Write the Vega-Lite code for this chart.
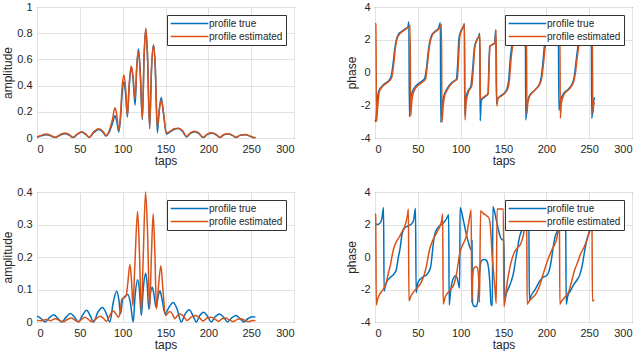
{
"$schema": "https://vega.github.io/schema/vega-lite/v6.json",
"background": "white",
"padding": {"left": 1, "top": 0, "right": 0, "bottom": 0},
"autosize": {"type": "pad"},
"columns": 2,
"spacing": {"row": 54, "column": 81},
"bounds": "flush",
"resolve": {"scale": {"color": "independent", "y": "independent", "x": "independent"}, "legend": {"color": "independent"}},
"config": {
 "font": "Liberation Sans",
 "view": {"stroke": "#3c3c3c", "strokeWidth": 1},
 "axis": {"labelFont": "Liberation Sans", "labelFontSize": 11, "labelColor": "#262626", "titleFont": "Liberation Sans", "titleFontSize": 12, "titleFontWeight": "normal", "titleColor": "#262626", "domain": false, "ticks": false, "tickSize": 0, "gridColor": "#e2e2e2", "gridWidth": 1, "labelExpr": "datum.value"},
 "axisX": {"labelPadding": 5, "titlePadding": 1},
 "axisY": {"labelPadding": 5, "titlePadding": 2},
 "legend": {"orient": "top-right", "offset": 8, "title": null, "symbolType": "M-4,0L4,0", "symbolSize": 89, "symbolStrokeWidth": 1.6, "symbolOffset": 14, "labelOffset": 14, "labelFont": "Liberation Sans", "labelFontSize": 10, "labelColor": "#262626", "strokeColor": "#333333", "fillColor": "white", "padding": 3, "rowPadding": 2},
 "line": {"strokeWidth": 1.5, "interpolate": "monotone"}
},
"datasets": {
"tl": [
{"t":0,"s":"T","v":0.005},{"t":5,"s":"T","v":0.016},{"t":11,"s":"T","v":0.025},{"t":16,"s":"T","v":0.016},{"t":21,"s":"T","v":0.003},{"t":27,"s":"T","v":0.022},{"t":33,"s":"T","v":0.033},{"t":38,"s":"T","v":0.02},{"t":42,"s":"T","v":0.003},{"t":47,"s":"T","v":0.027},{"t":52,"s":"T","v":0.043},{"t":57,"s":"T","v":0.027},{"t":61,"s":"T","v":0.003},{"t":66,"s":"T","v":0.04},{"t":72,"s":"T","v":0.065},{"t":77,"s":"T","v":0.045},{"t":80.5,"s":"T","v":0.015},{"t":84,"s":"T","v":0.04},{"t":88,"s":"T","v":0.11},{"t":91,"s":"T","v":0.17},{"t":93,"s":"T","v":0.13},{"t":95.5,"s":"T","v":0.045},{"t":97.5,"s":"T","v":0.15},{"t":99.5,"s":"T","v":0.35},{"t":101.5,"s":"T","v":0.43},{"t":103.5,"s":"T","v":0.33},{"t":105.5,"s":"T","v":0.16},{"t":107.5,"s":"T","v":0.38},{"t":110,"s":"T","v":0.54},{"t":112,"s":"T","v":0.46},{"t":114.5,"s":"T","v":0.25},{"t":116.5,"s":"T","v":0.55},{"t":118.5,"s":"T","v":0.68},{"t":120.5,"s":"T","v":0.5},{"t":123,"s":"T","v":0.14},{"t":125,"s":"T","v":0.62},{"t":127,"s":"T","v":0.83},{"t":129,"s":"T","v":0.62},{"t":131.5,"s":"T","v":0.07},{"t":133.5,"s":"T","v":0.5},{"t":136,"s":"T","v":0.71},{"t":138,"s":"T","v":0.55},{"t":140.5,"s":"T","v":0.04},{"t":142.5,"s":"T","v":0.2},{"t":145,"s":"T","v":0.31},{"t":147.5,"s":"T","v":0.2},{"t":151,"s":"T","v":0.03},{"t":155,"s":"T","v":0.045},{"t":160,"s":"T","v":0.065},{"t":165,"s":"T","v":0.072},{"t":170,"s":"T","v":0.05},{"t":174.5,"s":"T","v":0.008},{"t":179,"s":"T","v":0.035},{"t":184,"s":"T","v":0.048},{"t":189,"s":"T","v":0.033},{"t":194,"s":"T","v":0.003},{"t":199,"s":"T","v":0.028},{"t":204,"s":"T","v":0.037},{"t":209,"s":"T","v":0.025},{"t":213.5,"s":"T","v":0.003},{"t":218,"s":"T","v":0.024},{"t":223,"s":"T","v":0.031},{"t":228,"s":"T","v":0.02},{"t":232.5,"s":"T","v":0.003},{"t":237,"s":"T","v":0.02},{"t":243,"s":"T","v":0.025},{"t":248,"s":"T","v":0.015},{"t":252,"s":"T","v":0.004},{"t":255,"s":"T","v":0.002},
{"t":0,"s":"E","v":0.008},{"t":5,"s":"E","v":0.02},{"t":11,"s":"E","v":0.03},{"t":16,"s":"E","v":0.02},{"t":21,"s":"E","v":0.005},{"t":27,"s":"E","v":0.026},{"t":33,"s":"E","v":0.038},{"t":38,"s":"E","v":0.025},{"t":42,"s":"E","v":0.005},{"t":47,"s":"E","v":0.03},{"t":52,"s":"E","v":0.047},{"t":57,"s":"E","v":0.03},{"t":61,"s":"E","v":0.005},{"t":66,"s":"E","v":0.045},{"t":72,"s":"E","v":0.07},{"t":77,"s":"E","v":0.05},{"t":80.5,"s":"E","v":0.02},{"t":84,"s":"E","v":0.05},{"t":88,"s":"E","v":0.14},{"t":91,"s":"E","v":0.23},{"t":93,"s":"E","v":0.18},{"t":95.5,"s":"E","v":0.06},{"t":97.5,"s":"E","v":0.18},{"t":99.5,"s":"E","v":0.4},{"t":101.5,"s":"E","v":0.48},{"t":103.5,"s":"E","v":0.37},{"t":105.5,"s":"E","v":0.17},{"t":107.5,"s":"E","v":0.4},{"t":110,"s":"E","v":0.55},{"t":112,"s":"E","v":0.48},{"t":114.5,"s":"E","v":0.3},{"t":116.5,"s":"E","v":0.55},{"t":118.5,"s":"E","v":0.66},{"t":120.5,"s":"E","v":0.5},{"t":123,"s":"E","v":0.15},{"t":125,"s":"E","v":0.62},{"t":127,"s":"E","v":0.84},{"t":129,"s":"E","v":0.63},{"t":131.5,"s":"E","v":0.08},{"t":133.5,"s":"E","v":0.5},{"t":136,"s":"E","v":0.71},{"t":138,"s":"E","v":0.55},{"t":140.5,"s":"E","v":0.08},{"t":142.5,"s":"E","v":0.2},{"t":145,"s":"E","v":0.29},{"t":147.5,"s":"E","v":0.2},{"t":151,"s":"E","v":0.04},{"t":155,"s":"E","v":0.05},{"t":160,"s":"E","v":0.07},{"t":165,"s":"E","v":0.075},{"t":170,"s":"E","v":0.055},{"t":174.5,"s":"E","v":0.012},{"t":179,"s":"E","v":0.04},{"t":184,"s":"E","v":0.052},{"t":189,"s":"E","v":0.037},{"t":194,"s":"E","v":0.005},{"t":199,"s":"E","v":0.032},{"t":204,"s":"E","v":0.04},{"t":209,"s":"E","v":0.028},{"t":213.5,"s":"E","v":0.005},{"t":218,"s":"E","v":0.027},{"t":223,"s":"E","v":0.033},{"t":228,"s":"E","v":0.022},{"t":232.5,"s":"E","v":0.005},{"t":237,"s":"E","v":0.022},{"t":243,"s":"E","v":0.027},{"t":248,"s":"E","v":0.017},{"t":252,"s":"E","v":0.005},{"t":255,"s":"E","v":0.003}
],
"tr": [
{"t":0,"s":"T","v":-3.0},{"t":1,"s":"T","v":-2.9},{"t":2.5,"s":"T","v":-1.8},{"t":4,"s":"T","v":-1.2},{"t":8,"s":"T","v":-0.85},{"t":12,"s":"T","v":-0.65},{"t":16,"s":"T","v":-0.5},{"t":19,"s":"T","v":-0.2},{"t":21,"s":"T","v":0.5},{"t":23,"s":"T","v":1.4},{"t":25,"s":"T","v":2.0},{"t":27,"s":"T","v":2.3},{"t":31,"s":"T","v":2.5},{"t":35,"s":"T","v":2.65},{"t":38.5,"s":"T","v":2.8},{"t":39.5,"s":"T","v":3.1},{"t":40.2,"s":"T","v":-2.7},{"t":41.5,"s":"T","v":-1.6},{"t":43.5,"s":"T","v":-1.2},{"t":48,"s":"T","v":-0.8},{"t":53,"s":"T","v":-0.6},{"t":58,"s":"T","v":-0.35},{"t":60,"s":"T","v":0.2},{"t":62,"s":"T","v":1.2},{"t":64,"s":"T","v":1.9},{"t":66,"s":"T","v":2.25},{"t":70,"s":"T","v":2.5},{"t":74,"s":"T","v":2.7},{"t":76.3,"s":"T","v":3.05},{"t":76.8,"s":"T","v":-3.05},{"t":78,"s":"T","v":-2.0},{"t":80,"s":"T","v":-1.5},{"t":84,"s":"T","v":-1.0},{"t":90,"s":"T","v":-0.6},{"t":95,"s":"T","v":-0.4},{"t":96.5,"s":"T","v":0.5},{"t":98,"s":"T","v":2.1},{"t":100,"s":"T","v":2.5},{"t":103.5,"s":"T","v":2.85},{"t":104.3,"s":"T","v":3.0},{"t":104.8,"s":"T","v":-2.6},{"t":106,"s":"T","v":-1.6},{"t":108,"s":"T","v":-1.2},{"t":112,"s":"T","v":-0.8},{"t":114,"s":"T","v":0.2},{"t":116,"s":"T","v":1.5},{"t":118,"s":"T","v":1.9},{"t":121,"s":"T","v":2.2},{"t":122.3,"s":"T","v":2.4},{"t":122.8,"s":"T","v":-2.95},{"t":124,"s":"T","v":-1.7},{"t":128,"s":"T","v":-1.5},{"t":132,"s":"T","v":-1.3},{"t":133,"s":"T","v":0.5},{"t":134,"s":"T","v":1.6},{"t":137,"s":"T","v":1.7},{"t":139.5,"s":"T","v":1.8},{"t":141,"s":"T","v":2.6},{"t":141.8,"s":"T","v":-1.9},{"t":143,"s":"T","v":-1.6},{"t":146,"s":"T","v":-1.45},{"t":150,"s":"T","v":-1.3},{"t":154,"s":"T","v":-1.0},{"t":156,"s":"T","v":-0.5},{"t":158,"s":"T","v":0.9},{"t":160,"s":"T","v":1.7},{"t":163,"s":"T","v":2.1},{"t":168,"s":"T","v":2.4},{"t":172,"s":"T","v":2.6},{"t":175.5,"s":"T","v":2.9},{"t":176,"s":"T","v":-2.9},{"t":177.5,"s":"T","v":-2.0},{"t":180,"s":"T","v":-1.45},{"t":186,"s":"T","v":-1.1},{"t":192,"s":"T","v":-0.7},{"t":194,"s":"T","v":-0.3},{"t":196,"s":"T","v":0.6},{"t":198,"s":"T","v":1.7},{"t":201,"s":"T","v":2.2},{"t":206,"s":"T","v":2.45},{"t":210,"s":"T","v":2.6},{"t":214,"s":"T","v":2.9},{"t":214.7,"s":"T","v":-2.3},{"t":216,"s":"T","v":-1.8},{"t":220,"s":"T","v":-1.3},{"t":226,"s":"T","v":-1.0},{"t":231,"s":"T","v":-0.6},{"t":233,"s":"T","v":-0.1},{"t":235,"s":"T","v":0.8},{"t":237.5,"s":"T","v":1.8},{"t":240,"s":"T","v":2.2},{"t":245,"s":"T","v":2.45},{"t":249,"s":"T","v":2.6},{"t":252.5,"s":"T","v":2.9},{"t":253,"s":"T","v":-2.8},{"t":254.5,"s":"T","v":-2.0},{"t":256,"s":"T","v":-1.5},
{"t":0,"s":"E","v":3.0},{"t":1,"s":"E","v":2.95},{"t":1.8,"s":"E","v":-3.0},{"t":3,"s":"E","v":-2.2},{"t":5,"s":"E","v":-1.2},{"t":8,"s":"E","v":-0.9},{"t":12,"s":"E","v":-0.7},{"t":16,"s":"E","v":-0.55},{"t":19.5,"s":"E","v":-0.3},{"t":22,"s":"E","v":0.6},{"t":24,"s":"E","v":1.6},{"t":26,"s":"E","v":2.1},{"t":28,"s":"E","v":2.3},{"t":32,"s":"E","v":2.5},{"t":36,"s":"E","v":2.65},{"t":40.5,"s":"E","v":2.85},{"t":41,"s":"E","v":2.9},{"t":41.7,"s":"E","v":-2.65},{"t":43,"s":"E","v":-1.7},{"t":45,"s":"E","v":-1.2},{"t":50,"s":"E","v":-0.8},{"t":55,"s":"E","v":-0.6},{"t":59,"s":"E","v":-0.4},{"t":61,"s":"E","v":0.4},{"t":63,"s":"E","v":1.4},{"t":65,"s":"E","v":2.0},{"t":67,"s":"E","v":2.3},{"t":71,"s":"E","v":2.5},{"t":75,"s":"E","v":2.7},{"t":77.6,"s":"E","v":2.95},{"t":78.2,"s":"E","v":-3.05},{"t":79.5,"s":"E","v":-2.1},{"t":81,"s":"E","v":-1.5},{"t":85,"s":"E","v":-1.0},{"t":91,"s":"E","v":-0.6},{"t":96,"s":"E","v":-0.4},{"t":97.5,"s":"E","v":0.8},{"t":99,"s":"E","v":2.2},{"t":101,"s":"E","v":2.55},{"t":104.5,"s":"E","v":2.9},{"t":105,"s":"E","v":-2.9},{"t":106.5,"s":"E","v":-1.8},{"t":109,"s":"E","v":-1.2},{"t":113,"s":"E","v":-0.8},{"t":114.7,"s":"E","v":0.2},{"t":116.5,"s":"E","v":1.5},{"t":118.5,"s":"E","v":1.9},{"t":121.5,"s":"E","v":2.2},{"t":122.5,"s":"E","v":2.3},{"t":123,"s":"E","v":-1.6},{"t":124,"s":"E","v":-1.6},{"t":128,"s":"E","v":-1.45},{"t":132,"s":"E","v":-1.3},{"t":133.2,"s":"E","v":0.5},{"t":134.3,"s":"E","v":1.6},{"t":137,"s":"E","v":1.7},{"t":140,"s":"E","v":1.8},{"t":141.3,"s":"E","v":2.6},{"t":142.2,"s":"E","v":-2.05},{"t":143.5,"s":"E","v":-1.6},{"t":147,"s":"E","v":-1.45},{"t":151,"s":"E","v":-1.3},{"t":155,"s":"E","v":-1.0},{"t":157,"s":"E","v":-0.4},{"t":159,"s":"E","v":0.9},{"t":161,"s":"E","v":1.7},{"t":164,"s":"E","v":2.1},{"t":169,"s":"E","v":2.4},{"t":173,"s":"E","v":2.6},{"t":176.8,"s":"E","v":2.9},{"t":177.3,"s":"E","v":-2.5},{"t":178.5,"s":"E","v":-1.8},{"t":181,"s":"E","v":-1.4},{"t":187,"s":"E","v":-1.05},{"t":193,"s":"E","v":-0.65},{"t":195,"s":"E","v":-0.2},{"t":197,"s":"E","v":0.7},{"t":199,"s":"E","v":1.7},{"t":202,"s":"E","v":2.2},{"t":207,"s":"E","v":2.45},{"t":211,"s":"E","v":2.6},{"t":215.8,"s":"E","v":2.9},{"t":216.3,"s":"E","v":-2.8},{"t":217.5,"s":"E","v":-1.9},{"t":221,"s":"E","v":-1.3},{"t":227,"s":"E","v":-1.0},{"t":232,"s":"E","v":-0.55},{"t":234,"s":"E","v":0.0},{"t":236,"s":"E","v":0.9},{"t":238.5,"s":"E","v":1.8},{"t":241,"s":"E","v":2.2},{"t":246,"s":"E","v":2.45},{"t":250,"s":"E","v":2.6},{"t":253.7,"s":"E","v":2.9},{"t":254.2,"s":"E","v":-2.5},{"t":255,"s":"E","v":-2.1},{"t":256,"s":"E","v":-1.8}
],
"bl": [
{"t":0,"s":"T","v":0.018},{"t":4,"s":"T","v":0.012},{"t":9.5,"s":"T","v":0.0},{"t":14,"s":"T","v":0.012},{"t":19.5,"s":"T","v":0.022},{"t":24,"s":"T","v":0.012},{"t":29,"s":"T","v":0.0},{"t":34,"s":"T","v":0.015},{"t":39,"s":"T","v":0.026},{"t":44,"s":"T","v":0.014},{"t":48.5,"s":"T","v":0.0},{"t":53,"s":"T","v":0.02},{"t":58,"s":"T","v":0.036},{"t":62,"s":"T","v":0.02},{"t":66,"s":"T","v":0.0},{"t":71,"s":"T","v":0.03},{"t":76.5,"s":"T","v":0.045},{"t":81,"s":"T","v":0.025},{"t":85,"s":"T","v":0.0},{"t":89,"s":"T","v":0.06},{"t":93,"s":"T","v":0.095},{"t":95.5,"s":"T","v":0.07},{"t":97.5,"s":"T","v":0.025},{"t":100,"s":"T","v":0.07},{"t":103,"s":"T","v":0.08},{"t":106,"s":"T","v":0.085},{"t":109,"s":"T","v":0.06},{"t":112.3,"s":"T","v":0.0},{"t":114.5,"s":"T","v":0.08},{"t":117.4,"s":"T","v":0.13},{"t":119.5,"s":"T","v":0.1},{"t":121.8,"s":"T","v":0.02},{"t":124,"s":"T","v":0.1},{"t":126.7,"s":"T","v":0.15},{"t":128.5,"s":"T","v":0.12},{"t":130.5,"s":"T","v":0.04},{"t":132.5,"s":"T","v":0.09},{"t":134.5,"s":"T","v":0.107},{"t":136.5,"s":"T","v":0.085},{"t":139,"s":"T","v":0.045},{"t":141.5,"s":"T","v":0.08},{"t":143.5,"s":"T","v":0.096},{"t":146,"s":"T","v":0.07},{"t":149.5,"s":"T","v":0.025},{"t":154,"s":"T","v":0.045},{"t":159,"s":"T","v":0.06},{"t":163.5,"s":"T","v":0.04},{"t":168.5,"s":"T","v":0.0},{"t":173,"s":"T","v":0.025},{"t":177.5,"s":"T","v":0.038},{"t":182,"s":"T","v":0.02},{"t":186,"s":"T","v":0.0},{"t":190,"s":"T","v":0.02},{"t":194.5,"s":"T","v":0.03},{"t":199,"s":"T","v":0.018},{"t":203.5,"s":"T","v":0.0},{"t":208,"s":"T","v":0.016},{"t":213,"s":"T","v":0.025},{"t":218,"s":"T","v":0.014},{"t":222.5,"s":"T","v":0.0},{"t":227,"s":"T","v":0.012},{"t":232.5,"s":"T","v":0.02},{"t":237,"s":"T","v":0.01},{"t":241.5,"s":"T","v":0.0},{"t":246,"s":"T","v":0.01},{"t":251,"s":"T","v":0.016},{"t":255,"s":"T","v":0.015},
{"t":0,"s":"E","v":0.005},{"t":5,"s":"E","v":0.004},{"t":11,"s":"E","v":0.008},{"t":16,"s":"E","v":0.004},{"t":21,"s":"E","v":0.01},{"t":26,"s":"E","v":0.005},{"t":31,"s":"E","v":0.001},{"t":35,"s":"E","v":0.007},{"t":40,"s":"E","v":0.012},{"t":44,"s":"E","v":0.006},{"t":48,"s":"E","v":0.001},{"t":52,"s":"E","v":0.008},{"t":56,"s":"E","v":0.015},{"t":60,"s":"E","v":0.008},{"t":64,"s":"E","v":0.001},{"t":69,"s":"E","v":0.01},{"t":74,"s":"E","v":0.018},{"t":78,"s":"E","v":0.01},{"t":81,"s":"E","v":0.002},{"t":85,"s":"E","v":0.02},{"t":89,"s":"E","v":0.035},{"t":92,"s":"E","v":0.025},{"t":95,"s":"E","v":0.015},{"t":97,"s":"E","v":0.03},{"t":99,"s":"E","v":0.07},{"t":102,"s":"E","v":0.075},{"t":104,"s":"E","v":0.08},{"t":106,"s":"E","v":0.12},{"t":108.5,"s":"E","v":0.177},{"t":110.5,"s":"E","v":0.12},{"t":112,"s":"E","v":0.05},{"t":114,"s":"E","v":0.16},{"t":117.4,"s":"E","v":0.34},{"t":119.5,"s":"E","v":0.22},{"t":121.8,"s":"E","v":0.03},{"t":124,"s":"E","v":0.2},{"t":126.7,"s":"E","v":0.4},{"t":129,"s":"E","v":0.28},{"t":131.5,"s":"E","v":0.04},{"t":133.5,"s":"E","v":0.2},{"t":135.6,"s":"E","v":0.333},{"t":137.5,"s":"E","v":0.22},{"t":139.5,"s":"E","v":0.04},{"t":141.5,"s":"E","v":0.1},{"t":144.6,"s":"E","v":0.173},{"t":147,"s":"E","v":0.1},{"t":150,"s":"E","v":0.02},{"t":152,"s":"E","v":0.025},{"t":155,"s":"E","v":0.032},{"t":158,"s":"E","v":0.025},{"t":161,"s":"E","v":0.01},{"t":164,"s":"E","v":0.02},{"t":167,"s":"E","v":0.025},{"t":171,"s":"E","v":0.018},{"t":175,"s":"E","v":0.005},{"t":180,"s":"E","v":0.015},{"t":185,"s":"E","v":0.02},{"t":190,"s":"E","v":0.012},{"t":194,"s":"E","v":0.003},{"t":199,"s":"E","v":0.013},{"t":203,"s":"E","v":0.015},{"t":208,"s":"E","v":0.008},{"t":212,"s":"E","v":0.002},{"t":216,"s":"E","v":0.01},{"t":220,"s":"E","v":0.012},{"t":225,"s":"E","v":0.006},{"t":229,"s":"E","v":0.001},{"t":234,"s":"E","v":0.008},{"t":238,"s":"E","v":0.01},{"t":243,"s":"E","v":0.005},{"t":247,"s":"E","v":0.001},{"t":252,"s":"E","v":0.005},{"t":255,"s":"E","v":0.004}
],
"br": [
{"t":0.5,"s":"T","v":2.05},{"t":3,"s":"T","v":2.0},{"t":6,"s":"T","v":2.1},{"t":8,"s":"T","v":2.35},{"t":10,"s":"T","v":3.05},{"t":10.6,"s":"T","v":-2.1},{"t":12,"s":"T","v":-1.8},{"t":14,"s":"T","v":-1.5},{"t":18,"s":"T","v":-1.25},{"t":22,"s":"T","v":-1.05},{"t":25,"s":"T","v":-0.75},{"t":27,"s":"T","v":-0.1},{"t":29.5,"s":"T","v":0.6},{"t":31.5,"s":"T","v":1.4},{"t":34,"s":"T","v":1.75},{"t":38,"s":"T","v":1.9},{"t":42,"s":"T","v":2.0},{"t":45,"s":"T","v":2.25},{"t":47.3,"s":"T","v":3.0},{"t":48,"s":"T","v":-2.2},{"t":50,"s":"T","v":-1.6},{"t":53,"s":"T","v":-1.35},{"t":57,"s":"T","v":-1.2},{"t":61,"s":"T","v":-1.05},{"t":65,"s":"T","v":-0.6},{"t":67,"s":"T","v":0.3},{"t":69,"s":"T","v":1.2},{"t":71,"s":"T","v":1.6},{"t":75,"s":"T","v":1.9},{"t":80,"s":"T","v":2.1},{"t":84,"s":"T","v":2.4},{"t":86,"s":"T","v":2.6},{"t":86.6,"s":"T","v":-2.95},{"t":88,"s":"T","v":-2.2},{"t":90,"s":"T","v":-1.55},{"t":92,"s":"T","v":-1.25},{"t":94,"s":"T","v":-1.15},{"t":96,"s":"T","v":-1.3},{"t":98,"s":"T","v":-1.8},{"t":98.8,"s":"T","v":-1.9},{"t":99.3,"s":"T","v":3.05},{"t":101,"s":"T","v":2.8},{"t":103,"s":"T","v":2.3},{"t":105,"s":"T","v":1.8},{"t":107,"s":"T","v":1.3},{"t":109,"s":"T","v":0.9},{"t":111,"s":"T","v":0.55},{"t":112.8,"s":"T","v":0.4},{"t":113.2,"s":"T","v":1.0},{"t":113.8,"s":"T","v":-2.8},{"t":115,"s":"T","v":-3.0},{"t":118,"s":"T","v":-3.05},{"t":120,"s":"T","v":-2.7},{"t":122,"s":"T","v":-1.0},{"t":124,"s":"T","v":-0.25},{"t":127,"s":"T","v":-0.15},{"t":130,"s":"T","v":-0.2},{"t":132,"s":"T","v":-0.5},{"t":134,"s":"T","v":-1.5},{"t":135.5,"s":"T","v":-2.9},{"t":137,"s":"T","v":-3.0},{"t":137.6,"s":"T","v":3.1},{"t":139.5,"s":"T","v":2.8},{"t":141.5,"s":"T","v":2.3},{"t":144,"s":"T","v":1.7},{"t":146.5,"s":"T","v":1.2},{"t":149,"s":"T","v":1.05},{"t":150.5,"s":"T","v":1.1},{"t":151.3,"s":"T","v":-2.7},{"t":153,"s":"T","v":-2.3},{"t":156,"s":"T","v":-1.9},{"t":159,"s":"T","v":-1.5},{"t":162,"s":"T","v":-0.9},{"t":164,"s":"T","v":-0.2},{"t":166,"s":"T","v":0.4},{"t":169,"s":"T","v":1.3},{"t":172,"s":"T","v":1.7},{"t":175,"s":"T","v":1.95},{"t":178,"s":"T","v":2.3},{"t":179.5,"s":"T","v":2.8},{"t":180.2,"s":"T","v":-2.7},{"t":182,"s":"T","v":-2.4},{"t":185,"s":"T","v":-2.15},{"t":188,"s":"T","v":-1.9},{"t":192,"s":"T","v":-1.5},{"t":196,"s":"T","v":-1.25},{"t":200,"s":"T","v":-1.15},{"t":203,"s":"T","v":-0.9},{"t":205.5,"s":"T","v":-0.3},{"t":208,"s":"T","v":0.6},{"t":210,"s":"T","v":1.2},{"t":213,"s":"T","v":1.6},{"t":217,"s":"T","v":1.85},{"t":220,"s":"T","v":2.2},{"t":222.5,"s":"T","v":2.8},{"t":223.2,"s":"T","v":-2.9},{"t":225,"s":"T","v":-2.4},{"t":228,"s":"T","v":-2.1},{"t":232,"s":"T","v":-1.7},{"t":236,"s":"T","v":-1.4},{"t":239,"s":"T","v":-1.1},{"t":242,"s":"T","v":-0.5},{"t":244.5,"s":"T","v":0.3},{"t":247,"s":"T","v":1.0},{"t":250,"s":"T","v":1.5},{"t":253,"s":"T","v":1.85},{"t":256,"s":"T","v":2.0},
{"t":0,"s":"E","v":2.65},{"t":0.8,"s":"E","v":2.6},{"t":1.5,"s":"E","v":-2.95},{"t":3,"s":"E","v":-2.6},{"t":5,"s":"E","v":-2.35},{"t":8,"s":"E","v":-2.1},{"t":10,"s":"E","v":-1.95},{"t":13,"s":"E","v":-1.6},{"t":15.5,"s":"E","v":-1.0},{"t":18,"s":"E","v":-0.5},{"t":20,"s":"E","v":0.1},{"t":22,"s":"E","v":0.55},{"t":25,"s":"E","v":0.95},{"t":28,"s":"E","v":1.2},{"t":31,"s":"E","v":1.5},{"t":34,"s":"E","v":1.8},{"t":36,"s":"E","v":2.1},{"t":38,"s":"E","v":2.6},{"t":39,"s":"E","v":2.95},{"t":39.6,"s":"E","v":-2.7},{"t":42,"s":"E","v":-2.4},{"t":45,"s":"E","v":-2.15},{"t":49,"s":"E","v":-1.9},{"t":53,"s":"E","v":-1.65},{"t":56,"s":"E","v":-1.3},{"t":59,"s":"E","v":-0.8},{"t":61,"s":"E","v":-0.3},{"t":63,"s":"E","v":0.3},{"t":66,"s":"E","v":0.85},{"t":70,"s":"E","v":1.3},{"t":73,"s":"E","v":1.6},{"t":76,"s":"E","v":1.9},{"t":78,"s":"E","v":2.3},{"t":79,"s":"E","v":2.65},{"t":79.6,"s":"E","v":-2.9},{"t":82,"s":"E","v":-2.45},{"t":85,"s":"E","v":-2.2},{"t":89,"s":"E","v":-1.95},{"t":92,"s":"E","v":-1.7},{"t":95,"s":"E","v":-1.1},{"t":97,"s":"E","v":-0.4},{"t":99,"s":"E","v":0.25},{"t":102,"s":"E","v":0.7},{"t":105,"s":"E","v":1.05},{"t":107,"s":"E","v":1.35},{"t":109,"s":"E","v":2.0},{"t":111,"s":"E","v":2.6},{"t":112.3,"s":"E","v":2.9},{"t":112.9,"s":"E","v":-2.8},{"t":114,"s":"E","v":-1.3},{"t":115,"s":"E","v":-0.75},{"t":117,"s":"E","v":-0.6},{"t":119.5,"s":"E","v":-0.65},{"t":121,"s":"E","v":-1.3},{"t":122,"s":"E","v":-2.8},{"t":123.2,"s":"E","v":2.85},{"t":126,"s":"E","v":2.7},{"t":130,"s":"E","v":2.55},{"t":133,"s":"E","v":2.4},{"t":135,"s":"E","v":1.7},{"t":136.5,"s":"E","v":0.3},{"t":138,"s":"E","v":-0.7},{"t":140,"s":"E","v":-1.9},{"t":141.5,"s":"E","v":-2.85},{"t":142.5,"s":"E","v":2.95},{"t":146,"s":"E","v":2.95},{"t":149.8,"s":"E","v":2.95},{"t":150.5,"s":"E","v":-3.05},{"t":152,"s":"E","v":-2.6},{"t":154,"s":"E","v":-1.7},{"t":156.5,"s":"E","v":-0.9},{"t":159,"s":"E","v":-0.3},{"t":162,"s":"E","v":0.2},{"t":166,"s":"E","v":0.55},{"t":170,"s":"E","v":0.8},{"t":173,"s":"E","v":1.3},{"t":175,"s":"E","v":1.9},{"t":177,"s":"E","v":2.9},{"t":177.6,"s":"E","v":-2.9},{"t":180,"s":"E","v":-2.7},{"t":184,"s":"E","v":-2.5},{"t":188,"s":"E","v":-2.25},{"t":192,"s":"E","v":-1.8},{"t":196,"s":"E","v":-1.1},{"t":199,"s":"E","v":-0.6},{"t":203,"s":"E","v":0.0},{"t":207,"s":"E","v":0.5},{"t":210,"s":"E","v":0.8},{"t":212,"s":"E","v":1.1},{"t":214,"s":"E","v":1.8},{"t":215.2,"s":"E","v":2.9},{"t":215.8,"s":"E","v":-2.9},{"t":218,"s":"E","v":-2.7},{"t":222,"s":"E","v":-2.45},{"t":226,"s":"E","v":-2.15},{"t":230,"s":"E","v":-1.4},{"t":233,"s":"E","v":-0.8},{"t":236,"s":"E","v":-0.4},{"t":240,"s":"E","v":0.2},{"t":244,"s":"E","v":0.6},{"t":247,"s":"E","v":1.0},{"t":250,"s":"E","v":1.6},{"t":252,"s":"E","v":2.5},{"t":253.2,"s":"E","v":2.9},{"t":253.8,"s":"E","v":-2.7},{"t":256,"s":"E","v":-2.65}
]
},
"concat": [
{"width": 257, "height": 131, "data": {"name": "tl"}, "mark": {"type": "line"},
 "encoding": {
  "x": {"field": "t", "type": "quantitative", "scale": {"domain": [0, 300], "nice": false}, "axis": {"values": [0,50,100,150,200,250,300], "title": "taps"}},
  "y": {"field": "v", "type": "quantitative", "scale": {"domain": [0, 1], "nice": false}, "axis": {"values": [0,0.2,0.4,0.6,0.8,1], "title": "amplitude"}},
  "color": {"field": "s", "type": "nominal", "sort": ["T","E"], "scale": {"domain": ["T","E"], "range": ["#0072BD","#D95319"]}, "legend": {"labelExpr": "datum.label == 'T' ? 'profile true' : 'profile estimated'"}}
 }},
{"width": 257, "height": 131, "data": {"name": "tr"}, "mark": {"type": "line"},
 "encoding": {
  "x": {"field": "t", "type": "quantitative", "scale": {"domain": [0, 300], "nice": false}, "axis": {"values": [0,50,100,150,200,250,300], "title": "taps"}},
  "y": {"field": "v", "type": "quantitative", "scale": {"domain": [-4, 4], "nice": false}, "axis": {"values": [-4,-2,0,2,4], "title": "phase"}},
  "color": {"field": "s", "type": "nominal", "sort": ["T","E"], "scale": {"domain": ["T","E"], "range": ["#0072BD","#D95319"]}, "legend": {"labelExpr": "datum.label == 'T' ? 'profile true' : 'profile estimated'"}}
 }},
{"width": 257, "height": 130, "data": {"name": "bl"}, "mark": {"type": "line"},
 "encoding": {
  "x": {"field": "t", "type": "quantitative", "scale": {"domain": [0, 300], "nice": false}, "axis": {"values": [0,50,100,150,200,250,300], "title": "taps"}},
  "y": {"field": "v", "type": "quantitative", "scale": {"domain": [0, 0.4], "nice": false}, "axis": {"values": [0,0.1,0.2,0.3,0.4], "title": "amplitude"}},
  "color": {"field": "s", "type": "nominal", "sort": ["T","E"], "scale": {"domain": ["T","E"], "range": ["#0072BD","#D95319"]}, "legend": {"labelExpr": "datum.label == 'T' ? 'profile true' : 'profile estimated'"}}
 }},
{"width": 257, "height": 130, "data": {"name": "br"}, "mark": {"type": "line"},
 "encoding": {
  "x": {"field": "t", "type": "quantitative", "scale": {"domain": [0, 300], "nice": false}, "axis": {"values": [0,50,100,150,200,250,300], "title": "taps"}},
  "y": {"field": "v", "type": "quantitative", "scale": {"domain": [-4, 4], "nice": false}, "axis": {"values": [-4,-2,0,2,4], "title": "phase"}},
  "color": {"field": "s", "type": "nominal", "sort": ["T","E"], "scale": {"domain": ["T","E"], "range": ["#0072BD","#D95319"]}, "legend": {"labelExpr": "datum.label == 'T' ? 'profile true' : 'profile estimated'"}}
 }}
]
}
